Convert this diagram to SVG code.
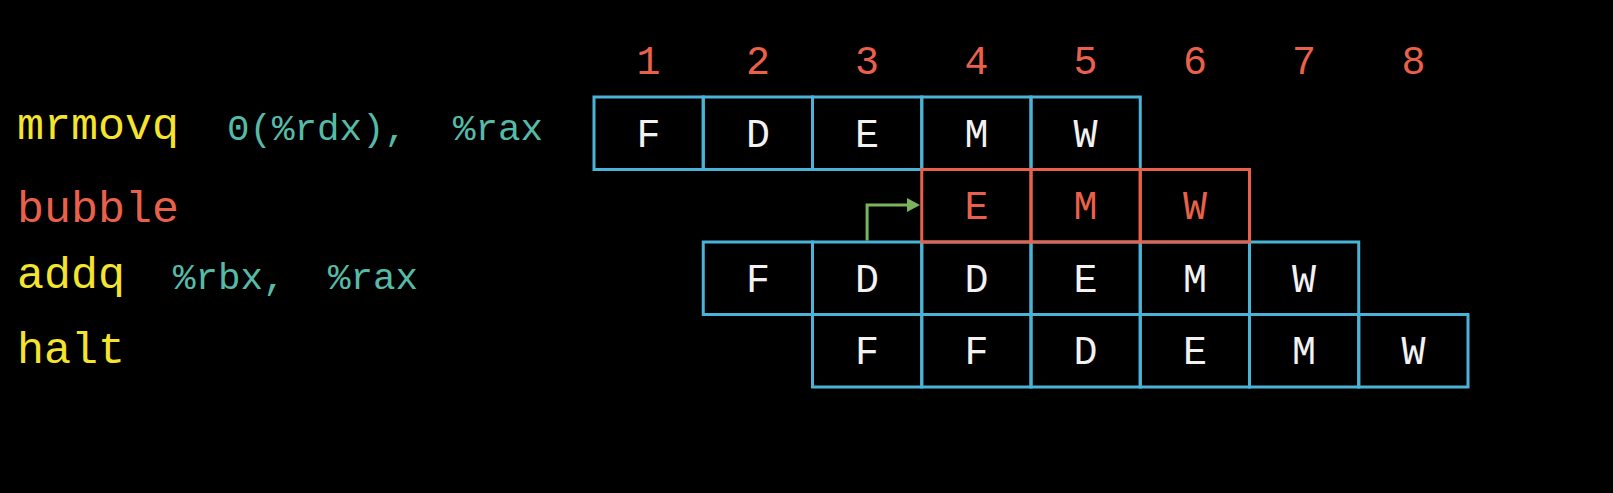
<svg xmlns="http://www.w3.org/2000/svg" width="1613" height="493" viewBox="0 0 1613 493">
<style>
.bg{fill:#000}
.cb{fill:none;stroke:#4ab4d8;stroke-width:3}
.cr{fill:none;stroke:#e9614b;stroke-width:3}
.t{font-family:"Liberation Mono","DejaVu Sans Mono",monospace;font-size:40px;text-anchor:middle}
.w{fill:#f2f2f2}
.r{fill:#e9614b}
.mn{font-family:"Liberation Mono","DejaVu Sans Mono",monospace;font-size:45px}
.op{font-family:"Liberation Mono","DejaVu Sans Mono",monospace;font-size:37.5px;fill:#55bba7}
.y{fill:#f5e42d}
.arr{fill:none;stroke:#7ab55b;stroke-width:3}
</style>
<defs>
<marker id="ah" markerUnits="userSpaceOnUse" markerWidth="15" markerHeight="15" refX="3" refY="7" orient="auto">
<path d="M0,0 L13,7 L0,14 z" fill="#7ab55b"/>
</marker>
</defs>
<rect class="bg" x="0" y="0" width="1613" height="493"/>

<g id="cycles">
<text class="t r" x="648.6" y="74">1</text>
<text class="t r" x="757.9" y="74">2</text>
<text class="t r" x="867.1" y="74">3</text>
<text class="t r" x="976.4" y="74">4</text>
<text class="t r" x="1085.6" y="74">5</text>
<text class="t r" x="1194.9" y="74">6</text>
<text class="t r" x="1304.1" y="74">7</text>
<text class="t r" x="1413.4" y="74">8</text>
</g>

<g id="instr-mrmovq">
<text class="mn y" x="17" y="138.5">mrmovq</text>
<text class="op" x="227" y="139.5">0(%rdx),</text>
<text class="op" x="453" y="139.5">%rax</text>
<rect class="cb" x="594" y="97" width="109.25" height="72.5"/>
<rect class="cb" x="703.25" y="97" width="109.25" height="72.5"/>
<rect class="cb" x="812.5" y="97" width="109.25" height="72.5"/>
<rect class="cb" x="921.75" y="97" width="109.25" height="72.5"/>
<rect class="cb" x="1031" y="97" width="109.25" height="72.5"/>
<text class="t w" x="648.6" y="146.5">F</text>
<text class="t w" x="757.9" y="146.5">D</text>
<text class="t w" x="867.1" y="146.5">E</text>
<text class="t w" x="976.4" y="146.5">M</text>
<text class="t w" x="1085.6" y="146.5">W</text>
</g>

<g id="instr-addq">
<text class="mn y" x="17" y="288">addq</text>
<text class="op" x="173" y="289">%rbx,</text>
<text class="op" x="328" y="289">%rax</text>
<rect class="cb" x="703.25" y="242" width="109.25" height="72.5"/>
<rect class="cb" x="812.5" y="242" width="109.25" height="72.5"/>
<rect class="cb" x="921.75" y="242" width="109.25" height="72.5"/>
<rect class="cb" x="1031" y="242" width="109.25" height="72.5"/>
<rect class="cb" x="1140.25" y="242" width="109.25" height="72.5"/>
<rect class="cb" x="1249.5" y="242" width="109.25" height="72.5"/>
<text class="t w" x="757.9" y="291.5">F</text>
<text class="t w" x="867.1" y="291.5">D</text>
<text class="t w" x="976.4" y="291.5">D</text>
<text class="t w" x="1085.6" y="291.5">E</text>
<text class="t w" x="1194.9" y="291.5">M</text>
<text class="t w" x="1304.1" y="291.5">W</text>
</g>

<g id="instr-halt">
<text class="mn y" x="17" y="363">halt</text>
<rect class="cb" x="812.5" y="314.5" width="109.25" height="72.5"/>
<rect class="cb" x="921.75" y="314.5" width="109.25" height="72.5"/>
<rect class="cb" x="1031" y="314.5" width="109.25" height="72.5"/>
<rect class="cb" x="1140.25" y="314.5" width="109.25" height="72.5"/>
<rect class="cb" x="1249.5" y="314.5" width="109.25" height="72.5"/>
<rect class="cb" x="1358.75" y="314.5" width="109.25" height="72.5"/>
<text class="t w" x="867.1" y="364">F</text>
<text class="t w" x="976.4" y="364">F</text>
<text class="t w" x="1085.6" y="364">D</text>
<text class="t w" x="1194.9" y="364">E</text>
<text class="t w" x="1304.1" y="364">M</text>
<text class="t w" x="1413.4" y="364">W</text>
</g>

<g id="instr-bubble">
<text class="mn r" x="17" y="222">bubble</text>
<rect class="cr" x="921.75" y="169.5" width="109.25" height="72.5"/>
<rect class="cr" x="1031" y="169.5" width="109.25" height="72.5"/>
<rect class="cr" x="1140.25" y="169.5" width="109.25" height="72.5"/>
<text class="t r" x="976.4" y="219">E</text>
<text class="t r" x="1085.6" y="219">M</text>
<text class="t r" x="1194.9" y="219">W</text>
</g>

<g id="connectors">
<path class="arr" d="M867.1,240.5 V205 H910" marker-end="url(#ah)"/>
</g>
</svg>
